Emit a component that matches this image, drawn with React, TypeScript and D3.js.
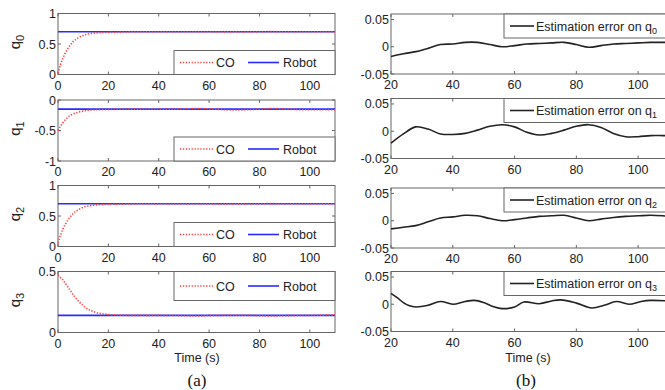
import React from "react";
import * as d3 from "d3";

// ---------- data ----------
const leftXTicks = [0, 20, 40, 60, 80, 100];
const rightXTicks = [20, 40, 60, 80, 100];
const rightYTicks = [-0.05, 0, 0.05];

const coT = [0, 1, 2, 3, 4, 5, 6, 8, 10, 12, 15, 20, 25, 30, 40, 50, 55, 60, 70, 80, 85, 90, 100, 110];
const coQ0 = [0.02, 0.16, 0.27, 0.36, 0.43, 0.49, 0.54, 0.6, 0.64, 0.665, 0.68, 0.69, 0.695, 0.7, 0.7, 0.7, 0.702, 0.7, 0.698, 0.7, 0.703, 0.7, 0.7, 0.7];
const coQ1 = [-0.5, -0.43, -0.37, -0.32, -0.28, -0.25, -0.23, -0.2, -0.18, -0.168, -0.16, -0.155, -0.152, -0.15, -0.152, -0.148, -0.14, -0.145, -0.165, -0.15, -0.14, -0.15, -0.16, -0.16];
const coQ2 = [0.06, 0.19, 0.29, 0.37, 0.44, 0.49, 0.54, 0.6, 0.64, 0.665, 0.68, 0.69, 0.695, 0.7, 0.7, 0.7, 0.702, 0.7, 0.698, 0.7, 0.703, 0.7, 0.7, 0.7];
const coQ3 = [0.47, 0.45, 0.43, 0.4, 0.37, 0.34, 0.31, 0.26, 0.22, 0.19, 0.165, 0.148, 0.142, 0.14, 0.14, 0.138, 0.135, 0.138, 0.142, 0.138, 0.135, 0.138, 0.14, 0.145];
const robotQ = [0.7, -0.15, 0.7, 0.14];

const errT = [20, 24, 28, 32, 36, 40, 44, 48, 52, 56, 60, 64, 68, 72, 76, 80, 84, 88, 92, 96, 100, 104, 108, 110];
const errQ0 = [-0.018, -0.013, -0.009, -0.003, 0.004, 0.005, 0.008, 0.008, 0.004, 0.0, 0.002, 0.005, 0.006, 0.007, 0.008, 0.004, -0.001, 0.002, 0.005, 0.006, 0.007, 0.008, 0.008, 0.008];
const errQ1 = [-0.022, -0.005, 0.008, 0.004, -0.005, -0.006, -0.004, 0.002, 0.009, 0.012, 0.008, -0.002, -0.007, -0.004, 0.002, 0.009, 0.012, 0.007, -0.004, -0.01, -0.01, -0.008, -0.008, -0.008];
const errQ2 = [-0.015, -0.012, -0.009, -0.002, 0.005, 0.007, 0.01, 0.009, 0.004, 0.0, 0.002, 0.005, 0.008, 0.009, 0.01, 0.005, 0.0, 0.003, 0.006, 0.008, 0.009, 0.01, 0.009, 0.008];
const errQ3T = [20, 22, 24, 26, 28, 32, 36, 40, 44, 47, 50, 53, 56, 60, 63, 68, 72, 75, 80, 85, 89, 93, 97, 101, 104, 110];
const errQ3 = [0.02, 0.012, 0.003, -0.003, -0.005, -0.002, 0.005, 0.0, 0.005, 0.007, 0.003, -0.004, -0.008, -0.005, 0.004, 0.001, 0.006, 0.008, 0.002, -0.007, -0.002, 0.005, 0.0, 0.005, 0.007, 0.006];

const leftYDomains: [number, number][] = [[0, 1], [-1, 0], [0, 1], [0, 0.5]];
const leftYTicks = [[0, 0.5, 1], [-1, -0.5, 0], [0, 0.5, 1], [0, 0.5]];
const coSeries = [coQ0, coQ1, coQ2, coQ3];
const errSeries = [
  { t: errT, v: errQ0 },
  { t: errT, v: errQ1 },
  { t: errT, v: errQ2 },
  { t: errQ3T, v: errQ3 },
];
const legendTop = [false, false, false, true];

// ---------- layout ----------
const W = 665, H = 390;
const LX0 = 58, LX1 = 335;
const RX0 = 391, RX1 = 669;
const leftTops = [13.5, 100, 185.5, 271.5];
const rightTops = [14, 98.5, 188, 271.5];
const PH = 61;
const font = "'Liberation Sans', Arial, sans-serif";
const axisColor = "#666";
const textColor = "#222";

const fmt = (v: number) => {
  const s = String(v);
  return s;
};

function Box({ x0, x1, y0, y1 }: any) {
  return <rect x={x0} y={y0} width={x1 - x0} height={y1 - y0} fill="white" stroke={axisColor} strokeWidth={1} />;
}

function LeftPanel({ i }: { i: number }) {
  const y0 = leftTops[i], y1 = y0 + PH;
  const x = d3.scaleLinear().domain([0, 110]).range([LX0, LX1]);
  const y = d3.scaleLinear().domain(leftYDomains[i]).range([y1, y0]);
  const line = d3.line<number>().x((_, k) => x(coT[k])).y((d) => y(d)).curve(d3.curveMonotoneX);
  const lgY0 = legendTop[i] ? y0 : y1 - 24;
  const lgY1 = legendTop[i] ? y0 + 29 : y1;
  const lgMid = (lgY0 + lgY1) / 2;
  return (
    <g>
      <Box x0={LX0} x1={LX1} y0={y0} y1={y1} />
      {leftXTicks.map((t) => (
        <g key={t}>
          <line x1={x(t)} x2={x(t)} y1={y1} y2={y1 - 3} stroke={axisColor} />
          <line x1={x(t)} x2={x(t)} y1={y0} y2={y0 + 3} stroke={axisColor} />
          <text x={x(t)} y={y1 + 15} textAnchor="middle" fontSize={12.5} fill={textColor} fontFamily={font}>{t}</text>
        </g>
      ))}
      {leftYTicks[i].map((t) => (
        <g key={t}>
          <line x1={LX0} x2={LX0 + 3} y1={y(t)} y2={y(t)} stroke={axisColor} />
          <line x1={LX1} x2={LX1 - 3} y1={y(t)} y2={y(t)} stroke={axisColor} />
          <text x={LX0 - 2} y={y(t) + 4.5} textAnchor="end" fontSize={12.5} fill={textColor} fontFamily={font}>{fmt(t)}</text>
        </g>
      ))}
      <line x1={LX0} x2={LX1} y1={y(robotQ[i])} y2={y(robotQ[i])} stroke="#2a2aff" strokeWidth={1.6} />
      <path d={line(coSeries[i]) || ""} fill="none" stroke="#ff4040" strokeWidth={1.6} strokeDasharray="1.3,1.6" />
      <rect x={174} y={lgY0} width={LX1 - 174} height={lgY1 - lgY0} fill="white" stroke={axisColor} />
      <line x1={180} x2={213} y1={lgMid} y2={lgMid} stroke="#ff4040" strokeWidth={1.6} strokeDasharray="1.3,1.6" />
      <text x={216} y={lgMid + 4.5} fontSize={12.5} fill={textColor} fontFamily={font}>CO</text>
      <line x1={248} x2={279} y1={lgMid} y2={lgMid} stroke="#2a2aff" strokeWidth={1.6} />
      <text x={283} y={lgMid + 4.5} fontSize={12.5} fill={textColor} fontFamily={font}>Robot</text>
      <text transform={`translate(${20},${(y0 + y1) / 2 - 2}) rotate(-90)`} textAnchor="middle" fontSize={15} fill={textColor} fontFamily={font}>
        q<tspan fontSize={11} dy={4}>{i}</tspan>
      </text>
    </g>
  );
}

function RightPanel({ i }: { i: number }) {
  const y0 = rightTops[i], y1 = y0 + 60;
  const x = d3.scaleLinear().domain([20, 110]).range([RX0, RX1]);
  const y = d3.scaleLinear().domain([-0.05, 0.06]).range([y1, y0]);
  const s = errSeries[i];
  const line = d3.line<number>().x((_, k) => x(s.t[k])).y((d) => y(d)).curve(d3.curveCatmullRom);
  return (
    <g>
      <Box x0={RX0} x1={RX1} y0={y0} y1={y1} />
      {rightXTicks.map((t) => (
        <g key={t}>
          <line x1={x(t)} x2={x(t)} y1={y1} y2={y1 - 3} stroke={axisColor} />
          <line x1={x(t)} x2={x(t)} y1={y0} y2={y0 + 3} stroke={axisColor} />
          <text x={x(t)} y={y1 + 15} textAnchor="middle" fontSize={12.5} fill={textColor} fontFamily={font}>{t}</text>
        </g>
      ))}
      {rightYTicks.map((t) => (
        <g key={t}>
          <line x1={RX0} x2={RX0 + 3} y1={y(t)} y2={y(t)} stroke={axisColor} />
          <text x={RX0 - 2} y={y(t) + 4.5} textAnchor="end" fontSize={12.5} fill={textColor} fontFamily={font}>{fmt(t)}</text>
        </g>
      ))}
      <path d={line(s.v) || ""} fill="none" stroke="#222" strokeWidth={1.6} />
      <rect x={504} y={y0} width={RX1 - 504} height={24} fill="white" stroke={axisColor} />
      <line x1={510} x2={534} y1={y0 + 12} y2={y0 + 12} stroke="#222" strokeWidth={1.6} />
      <text x={536} y={y0 + 16.5} fontSize={12.5} fill={textColor} fontFamily={font}>
        Estimation error on q<tspan fontSize={9} dy={3}>{i}</tspan>
      </text>
    </g>
  );
}

export default function App() {
  return (
    <svg width={W} height={H} style={{ position: "absolute", left: 0, top: 0, background: "white" }}>
      <rect width={W} height={H} fill="white" />
      {[0, 1, 2, 3].map((i) => <LeftPanel key={"l" + i} i={i} />)}
      {[0, 1, 2, 3].map((i) => <RightPanel key={"r" + i} i={i} />)}
      <text x={197} y={362} textAnchor="middle" fontSize={12.5} fill={textColor} fontFamily={font}>Time (s)</text>
      <text x={528} y={362} textAnchor="middle" fontSize={12.5} fill={textColor} fontFamily={font}>Time (s)</text>
      <text x={197} y={386} textAnchor="middle" fontSize={17} fill="#111" fontFamily="'Liberation Serif', 'Times New Roman', serif">(a)</text>
      <text x={526} y={386} textAnchor="middle" fontSize={17} fill="#111" fontFamily="'Liberation Serif', 'Times New Roman', serif">(b)</text>
    </svg>
  );
}
